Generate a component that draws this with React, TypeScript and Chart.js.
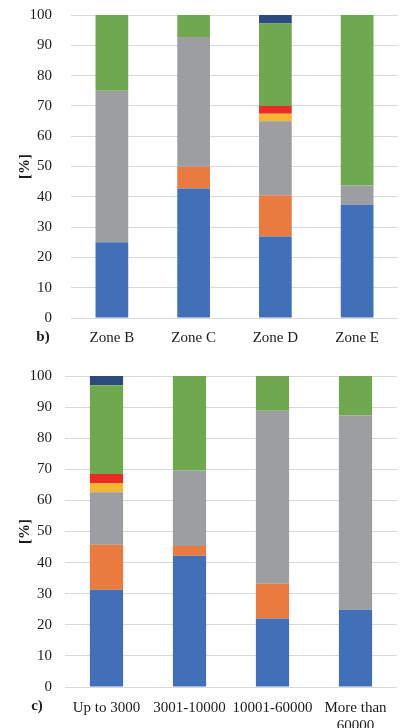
import React, { useEffect, useRef } from "react";
import { Chart, registerables } from "chart.js";

Chart.register(...registerables);

// Panel b): share of each category by zone
const zoneLabels = ["Zone B", "Zone C", "Zone D", "Zone E"];
const zoneBlue = [25, 42.7, 26.9, 37.4];
const zoneOrange = [0, 7.2, 13.6, 0];
const zoneGray = [50, 42.8, 24.4, 6.3];
const zoneYellow = [0, 0, 2.5, 0];
const zoneRed = [0, 0, 2.6, 0];
const zoneGreen = [25, 7.3, 27.2, 56.3];
const zoneNavy = [0, 0, 2.8, 0];

// Panel c): share of each category by size class
const sizeLabels: (string | string[])[] = ["Up to 3000", "3001-10000", "10001-60000", ["More than", "60000"]];
const sizeBlue = [31.3, 42.2, 22.0, 24.8];
const sizeOrange = [14.4, 3.1, 11.2, 0];
const sizeGray = [16.9, 24.3, 55.6, 62.6];
const sizeYellow = [3.0, 0, 0, 0];
const sizeRed = [2.9, 0, 0, 0];
const sizeGreen = [28.5, 30.4, 11.2, 12.6];
const sizeNavy = [3.0, 0, 0, 0];

const yTicks = [0, 10, 20, 30, 40, 50, 60, 70, 80, 90, 100];

const COLORS = ["#4170b8", "#e97a40", "#9c9ea2", "#f3b534", "#ec2b26", "#70a84f", "#2d4a7c"];
const FONT = "'Liberation Serif', 'Times New Roman', serif";
const TEXT = "#1c1c1c";

type PanelProps = {
  labels: (string | string[])[];
  series: number[][];
  width: number;
  height: number;
  plot: { left: number; right: number; top: number; bottom: number };
  yPad: number;
  xPad: number;
  tag: string;
  tagX: number;
  tagY: number;
};

function Panel(p: PanelProps) {
  const ref = useRef<HTMLCanvasElement | null>(null);

  useEffect(() => {
    if (!ref.current) return;
    const overlay = {
      id: "panelText",
      afterDraw(chart: any) {
        const ctx = chart.ctx as CanvasRenderingContext2D;
        const area = chart.chartArea;
        ctx.save();
        ctx.fillStyle = TEXT;
        ctx.font = `bold 15px ${FONT}`;
        ctx.textAlign = "center";
        ctx.textBaseline = "middle";
        ctx.translate(25, (area.top + area.bottom) / 2);
        ctx.rotate(-Math.PI / 2);
        ctx.fillText("[%]", 0, 0);
        ctx.restore();
        ctx.save();
        ctx.fillStyle = TEXT;
        ctx.font = `bold 15px ${FONT}`;
        ctx.textAlign = "center";
        ctx.textBaseline = "middle";
        ctx.fillText(p.tag, p.tagX, p.tagY);
        ctx.restore();
      },
    };

    const chart = new Chart(ref.current, {
      type: "bar",
      data: {
        labels: p.labels as any,
        datasets: p.series.map((d, i) => ({
          data: d,
          backgroundColor: COLORS[i],
          borderWidth: 0,
          barPercentage: 0.4,
          categoryPercentage: 1,
        })),
      },
      options: {
        responsive: false,
        animation: false,
        layout: {
          padding: {
            left: 0,
            top: p.plot.top,
            right: p.width - p.plot.right,
            bottom: 0,
          },
        },
        plugins: {
          legend: { display: false },
          tooltip: { enabled: false },
        },
        scales: {
          x: {
            stacked: true,
            grid: { display: false, drawTicks: false },
            border: { display: false },
            ticks: {
              color: TEXT,
              font: { family: FONT, size: 15 },
              padding: p.xPad,
              maxRotation: 0,
              minRotation: 0,
              autoSkip: false,
            },
            afterFit(axis: any) {
              axis.height = p.height - p.plot.bottom;
              axis.paddingLeft = 0;
              axis.paddingRight = 0;
            },
          },
          y: {
            stacked: true,
            min: 0,
            max: 100,
            afterBuildTicks(axis: any) {
              axis.ticks = yTicks.map((v) => ({ value: v }));
            },
            grid: { color: "#d9d9d9", lineWidth: 1, drawTicks: false },
            border: { display: false },
            ticks: {
              color: TEXT,
              font: { family: FONT, size: 15 },
              padding: p.yPad,
            },
            afterFit(axis: any) {
              axis.width = p.plot.left;
              axis.paddingTop = 0;
              axis.paddingBottom = 0;
            },
          },
        },
      },
      plugins: [overlay],
    });
    return () => chart.destroy();
  }, []);

  return <canvas ref={ref} width={p.width} height={p.height} style={{ display: "block" }} />;
}

export default function App() {
  return (
    <div style={{ position: "absolute", left: 0, top: 0, width: 405, height: 728, background: "#fff" }}>
      <Panel
        labels={zoneLabels}
        series={[zoneBlue, zoneOrange, zoneGray, zoneYellow, zoneRed, zoneGreen, zoneNavy]}
        width={405}
        height={360}
        plot={{ left: 71, right: 398, top: 15, bottom: 318 }}
        yPad={19}
        xPad={11}
        tag="b)"
        tagX={43}
        tagY={337}
      />
      <Panel
        labels={sizeLabels}
        series={[sizeBlue, sizeOrange, sizeGray, sizeYellow, sizeRed, sizeGreen, sizeNavy]}
        width={405}
        height={368}
        plot={{ left: 65, right: 397, top: 16, bottom: 327 }}
        yPad={13}
        xPad={12}
        tag="c)"
        tagX={37}
        tagY={346}
      />
    </div>
  );
}
